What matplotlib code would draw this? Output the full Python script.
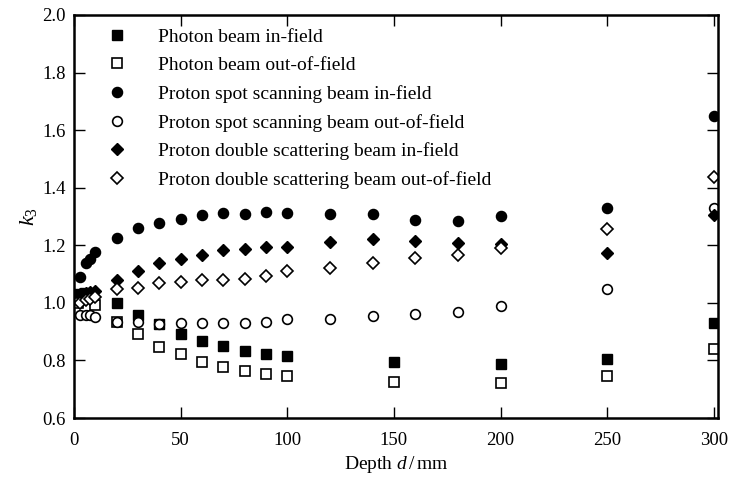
import matplotlib
matplotlib.use("Agg")
import matplotlib.pyplot as plt

plt.rcParams["font.family"] = ["Liberation Serif", "DejaVu Serif"]
plt.rcParams["mathtext.fontset"] = "custom"
plt.rcParams["mathtext.rm"] = "Liberation Serif"
plt.rcParams["mathtext.it"] = "Liberation Serif:italic"

# photon beam (depth in mm)
photon_in_d = [2, 5, 20, 30, 40, 50, 60, 70, 80, 90, 100, 150, 200, 250, 300]
photon_in_k = [1.03, 1.035, 1.0, 0.958, 0.926, 0.892, 0.866, 0.849, 0.834, 0.824, 0.815,
               0.794, 0.787, 0.804, 0.930]
photon_out_d = [2, 10, 20, 30, 40, 50, 60, 70, 80, 90, 100, 150, 200, 250, 300]
photon_out_k = [1.00, 0.993, 0.935, 0.891, 0.848, 0.821, 0.795, 0.777, 0.763, 0.753, 0.747,
                0.724, 0.721, 0.746, 0.841]

# proton beams
proton_d = [3, 5.5, 7.5, 10, 20, 30, 40, 50, 60, 70, 80, 90, 100,
            120, 140, 160, 180, 200, 250, 300]
pss_in_k = [1.091, 1.140, 1.151, 1.176, 1.224, 1.259, 1.277, 1.293, 1.304, 1.311, 1.310,
            1.316, 1.312, 1.309, 1.308, 1.288, 1.284, 1.303, 1.330, 1.649]
pss_out_k = [0.958, 0.958, 0.958, 0.952, 0.935, 0.935, 0.927, 0.929, 0.930, 0.929, 0.930,
             0.935, 0.943, 0.945, 0.956, 0.962, 0.970, 0.989, 1.048, 1.330]
pds_in_k = [1.03, 1.035, 1.038, 1.042, 1.080, 1.111, 1.140, 1.154, 1.166, 1.184, 1.186,
            1.195, 1.193, 1.212, 1.221, 1.216, 1.207, 1.204, 1.172, 1.306]
pds_out_k = [1.00, 1.01, 1.012, 1.02, 1.047, 1.053, 1.070, 1.074, 1.078, 1.080, 1.082,
             1.092, 1.110, 1.122, 1.137, 1.155, 1.165, 1.190, 1.256, 1.436]

labels = ["Photon beam in-field", "Photon beam out-of-field",
          "Proton spot scanning beam in-field", "Proton spot scanning beam out-of-field",
          "Proton double scattering beam in-field", "Proton double scattering beam out-of-field"]

fig = plt.figure(figsize=(7.30, 4.79), dpi=100)
ax = fig.add_axes([0.1014, 0.1273, 0.8822, 0.8414])

ms = 6.5
ax.plot(photon_in_d, photon_in_k, "s", ms=ms, mfc="black", mec="black", label=labels[0])
ax.plot(photon_out_d, photon_out_k, "s", ms=ms, mfc="white", mec="black", mew=1.2, label=labels[1])
ax.plot(proton_d, pss_in_k, "o", ms=7.3, mfc="black", mec="black", label=labels[2])
ax.plot(proton_d, pss_out_k, "o", ms=7, mfc="white", mec="black", mew=1.2, label=labels[3])
ax.plot(proton_d, pds_in_k, "D", ms=6.5, mfc="black", mec="black", label=labels[4])
ax.plot(proton_d, pds_out_k, "D", ms=6.5, mfc="white", mec="black", mew=1.2, label=labels[5])

ax.set_xlim(0, 302)
ax.set_ylim(0.6, 2.0)
ax.set_xticks(range(0, 301, 50))
ax.set_yticks([0.6, 0.8, 1.0, 1.2, 1.4, 1.6, 1.8, 2.0])
ax.set_yticklabels([f"{v:.1f}" for v in ax.get_yticks()])

for s in ax.spines.values():
    s.set_linewidth(1.8)
ax.tick_params(direction="in", length=8, width=1.0, top=True, right=True,
               labelsize=13.5, pad=6)
ax.tick_params(axis="x", pad=10)

ax.set_xlabel("Depth $d\\,/\\,$mm", fontsize=14, labelpad=4)
ax.set_ylabel("$k_3$", fontsize=16, labelpad=2)

ax.legend(loc="upper left", bbox_to_anchor=(0.036, 0.968), frameon=False, numpoints=1,
          fontsize=14, borderpad=0, borderaxespad=0, handlelength=2.0,
          handletextpad=1.15, labelspacing=0.56)

fig.savefig("out.png", dpi=100)
